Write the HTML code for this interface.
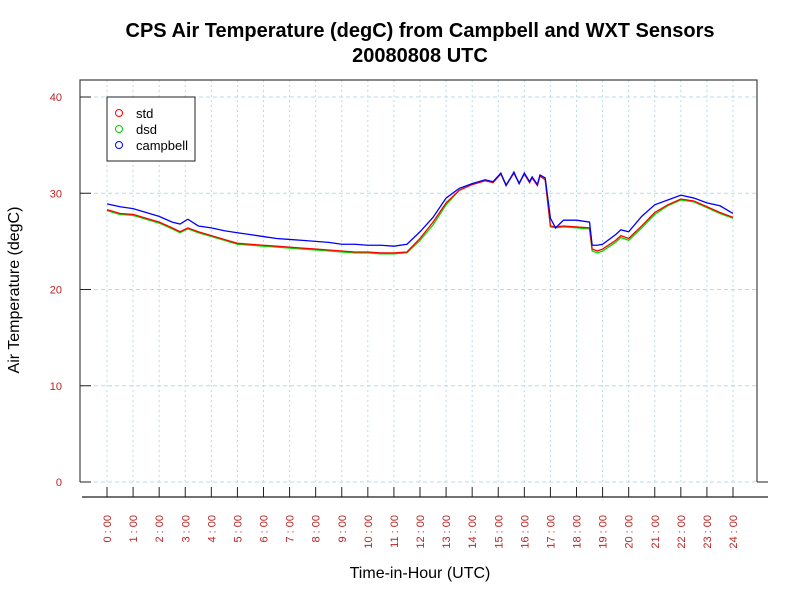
<!DOCTYPE html>
<html><head><meta charset="utf-8"><style>
body{margin:0;background:#fff}
svg text{font-family:"Liberation Sans",sans-serif}
</style></head><body>
<svg id="c" width="800" height="600" xmlns="http://www.w3.org/2000/svg">
<rect width="800" height="600" fill="#fff"/>
<text x="420" y="37" text-anchor="middle" font-size="20" font-weight="bold">CPS Air Temperature (degC) from Campbell and WXT Sensors</text>
<text x="420" y="62" text-anchor="middle" font-size="20" font-weight="bold">20080808  UTC</text>
<g id="grid"></g>
<g id="series"></g>
<path d="M80,482 V80 H757 V482" fill="none" stroke="#444" stroke-width="1.2"/>
<line x1="757" y1="482" x2="768" y2="482" stroke="#222"/>
<line x1="80" y1="482" x2="86" y2="482" stroke="#222"/>
<line x1="82" y1="497" x2="768" y2="497" stroke="#444" stroke-width="1.5"/>
<g id="axes"></g>
<text x="420" y="578" text-anchor="middle" font-size="16">Time-in-Hour (UTC)</text>
<text transform="translate(19,290) rotate(-90)" text-anchor="middle" font-size="16">Air Temperature (degC)</text>
<g>
<rect x="107" y="97" width="88" height="64" fill="#fff" stroke="#222"/>
<circle cx="119" cy="113" r="3.5" fill="none" stroke="#f00"/><text x="136" y="118" font-size="13">std</text>
<circle cx="119" cy="129" r="3.5" fill="none" stroke="#0c0"/><text x="136" y="134" font-size="13">dsd</text>
<circle cx="119" cy="145" r="3.5" fill="none" stroke="#00f"/><text x="136" y="150" font-size="13">campbell</text>
</g>
</svg>
<script>
const hours=[0,0.5,1,1.5,2,2.5,2.8,3.1,3.5,4,4.5,5,5.5,6,6.5,7,7.5,8,8.5,9,9.5,10,10.5,11,11.5,12,12.5,13,13.5,14,14.5,14.8,15.1,15.3,15.6,15.8,16.0,16.2,16.3,16.5,16.6,16.8,17.0,17.2,17.5,18,18.5,18.6,18.8,19,19.5,19.7,20,20.5,21,21.5,22,22.5,23,23.5,24];
const campbell=[28.9,28.6,28.4,28.0,27.6,27.0,26.8,27.3,26.6,26.4,26.1,25.9,25.7,25.5,25.3,25.2,25.1,25.0,24.9,24.7,24.7,24.6,24.6,24.5,24.7,26.0,27.5,29.5,30.5,31.0,31.4,31.2,32.1,30.8,32.2,31.0,32.1,31.2,31.7,30.9,31.9,31.6,27.4,26.4,27.2,27.2,27.0,24.6,24.6,24.7,25.7,26.2,26.0,27.6,28.8,29.3,29.8,29.5,29.0,28.7,27.9];
const std=[28.3,27.9,27.8,27.4,27.0,26.4,26.0,26.4,26.0,25.6,25.2,24.8,24.7,24.6,24.5,24.4,24.3,24.2,24.1,24.0,23.9,23.9,23.8,23.8,23.9,25.3,27.0,29.0,30.3,30.9,31.3,31.1,32.0,30.8,32.1,31.0,32.0,31.1,31.6,30.8,31.8,31.4,26.6,26.5,26.6,26.5,26.4,24.2,24.0,24.2,25.1,25.6,25.3,26.6,28.0,28.8,29.4,29.2,28.6,28.0,27.5];
const dsdOffset=[-0.1,-0.1,-0.1,-0.1,-0.1,-0.1,-0.1,-0.1,-0.1,-0.1,-0.1,-0.1,-0.1,-0.1,-0.1,-0.1,-0.1,-0.1,-0.1,-0.1,-0.1,-0.1,-0.1,-0.1,-0.1,-0.2,-0.3,-0.2,0,0.1,0,0.1,0,0.1,0,0.1,0,0.1,0,0.1,0,0,-0.1,-0.1,-0.1,-0.1,-0.1,-0.2,-0.2,-0.2,-0.2,-0.2,-0.2,-0.2,-0.2,-0.1,-0.1,-0.1,-0.1,-0.1,-0.1];
const yTicks=[0,10,20,30,40];
const xTickHours=[0,1,2,3,4,5,6,7,8,9,10,11,12,13,14,15,16,17,18,19,20,21,22,23,24];
const NS="http://www.w3.org/2000/svg";
const X=h=>107+h*(733-107)/24;
const Y=v=>482-v*(482-97)/40;
function mk(t,a,p){const e=document.createElementNS(NS,t);for(const k in a)e.setAttribute(k,a[k]);p.appendChild(e);return e;}
const grid=document.getElementById('grid'),axes=document.getElementById('axes'),ser=document.getElementById('series');
yTicks.forEach(v=>{
  const g=mk('line',{x1:80,x2:757,y1:Y(v),y2:Y(v),stroke:'#b8dbe8','stroke-dasharray':'4,3'},grid);
  
  
  mk('line',{x1:80,x2:91,y1:Y(v),y2:Y(v),stroke:'#222'},axes);
  const t=mk('text',{x:62,y:Y(v)+4,'text-anchor':'end','font-size':11,fill:'#b22'},axes);
  t.textContent=v;
  
  
});
xTickHours.forEach(h=>{
  const g=mk('line',{x1:X(h),x2:X(h),y1:80,y2:482,stroke:'#b8dbe8','stroke-dasharray':'2,3'},grid);
  
  
  mk('line',{x1:X(h),x2:X(h),y1:487,y2:497,stroke:'#222'},axes);
  const t=mk('text',{transform:`translate(${X(h)+4},515) rotate(-90)`,'text-anchor':'end','font-size':11,fill:'#b22'},axes);
  t.textContent=h+' : 00';
  
  
});
function line(vals,color,name){
  const p=mk('polyline',{points:hours.map((h,i)=>X(h)+','+Y(vals[i])).join(' '),fill:'none',stroke:color,'stroke-width':1.3},ser);
  
  
}
line(std.map((v,i)=>v+dsdOffset[i]),'#00dd00','dsd-line');
line(std,'#ff0000','std-line');
line(campbell,'#0000ff','campbell-line');
</script>
</body></html>
